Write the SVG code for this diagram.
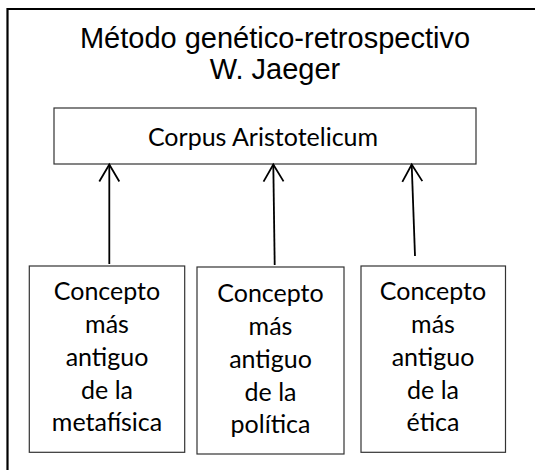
<svg xmlns="http://www.w3.org/2000/svg" width="535" height="470" viewBox="0 0 535 470">
<style>
.frame{fill:none;stroke:#000;stroke-width:2.2}
.box{fill:#fff;stroke:#333;stroke-width:1.2}
.title{font-family:"Liberation Sans",Arial,sans-serif;font-size:29px;fill:#000;text-anchor:middle}
.lbl{font-family:Lato,"Liberation Sans",sans-serif;font-size:25px;fill:#000;text-anchor:middle}
.conn{stroke:#000;stroke-width:1.8;fill:none}
</style>
<defs>
<marker id="open" markerUnits="userSpaceOnUse" viewBox="-20 -12 22 24" refX="0" refY="0" markerWidth="22" markerHeight="24" orient="auto" overflow="visible">
<path d="M-17,-10 L0,0 L-17,10" fill="none" stroke="#000" stroke-width="1.8"/>
</marker>
</defs>
<path class="frame" d="M7.5,472 V9 H537"/>
<g id="title">
<text class="title" x="275" y="47.5">Método genético-retrospectivo</text>
<text class="title" x="275" y="78.5">W. Jaeger</text>
</g>
<g id="corpus">
<rect class="box" x="54" y="108" width="422" height="56"/>
<text class="lbl" x="263" y="146">Corpus Aristotelicum</text>
</g>
<g id="metafisica">
<rect class="box" x="29.3" y="266" width="155.4" height="186.3"/>
<text class="lbl" x="107" y="300">Concepto</text>
<text class="lbl" x="107" y="333">más</text>
<text class="lbl" x="107" y="366">antiguo</text>
<text class="lbl" x="107" y="399">de la</text>
<text class="lbl" x="107" y="431">metafísica</text>
</g>
<g id="politica">
<rect class="box" x="197" y="267" width="147" height="187"/>
<text class="lbl" x="270.5" y="302">Concepto</text>
<text class="lbl" x="270.5" y="335">más</text>
<text class="lbl" x="270.5" y="368">antiguo</text>
<text class="lbl" x="270.5" y="401">de la</text>
<text class="lbl" x="270.5" y="433">política</text>
</g>
<g id="etica">
<rect class="box" x="361" y="266" width="144.5" height="186.3"/>
<text class="lbl" x="433" y="300">Concepto</text>
<text class="lbl" x="433" y="333">más</text>
<text class="lbl" x="433" y="366">antiguo</text>
<text class="lbl" x="433" y="399">de la</text>
<text class="lbl" x="433" y="431">ética</text>
</g>
<g id="connectors">
<line class="conn" x1="109.3" y1="264" x2="109.3" y2="164.5" marker-end="url(#open)"/>
<line class="conn" x1="274.7" y1="265" x2="273.3" y2="164.5" marker-end="url(#open)"/>
<line class="conn" x1="415" y1="256" x2="411.7" y2="164.5" marker-end="url(#open)"/>
</g>
</svg>
